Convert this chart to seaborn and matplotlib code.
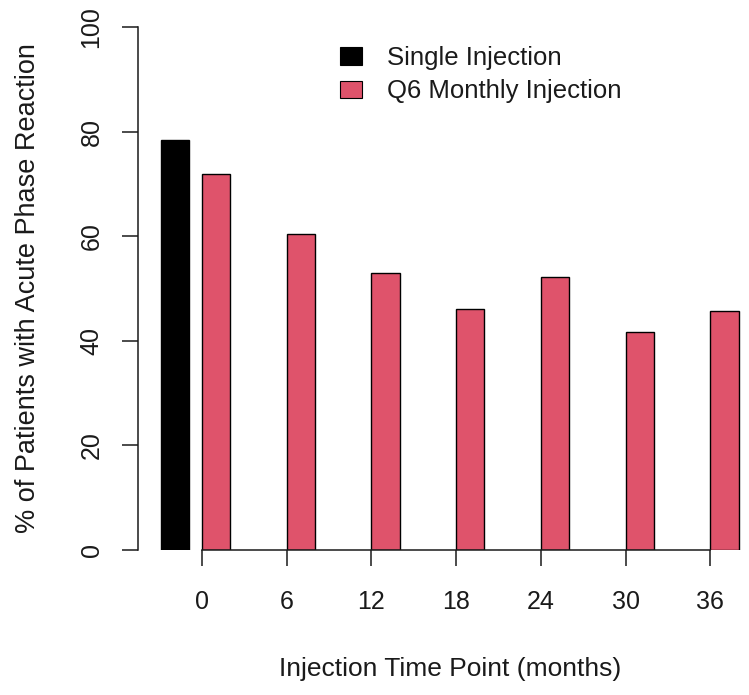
import numpy as np
import pandas as pd
import seaborn as sns
from matplotlib import pyplot as plt
from matplotlib.patches import Patch

# values
months = [0, 6, 12, 18, 24, 30, 36]
tick_labels = ["0", "6", "12", "18", "24", "30", "36"]
q6_pct = [71.8, 60.5, 52.9, 46.0, 52.2, 41.6, 45.7]
single_pct = [78.4]
y_ticks = [0, 20, 40, 60, 80, 100]

RED = "#DF536B"

sns.set_style("ticks")
plt.rcParams["font.family"] = ["Liberation Sans", "DejaVu Sans"]
plt.rcParams["text.color"] = "#1a1a1a"
plt.rcParams["axes.labelcolor"] = "#1a1a1a"
plt.rcParams["xtick.color"] = "#1a1a1a"
plt.rcParams["ytick.color"] = "#1a1a1a"

# bar centres: each Q6 bar sits just right of its tick, the single bar left of 0
q6 = pd.DataFrame({"pos": np.array(months, dtype=float) + 1.0, "pct": q6_pct})
single = pd.DataFrame({"pos": [months[0] - 1.9], "pct": single_pct})

fig = plt.figure(figsize=(7.49, 6.95), dpi=100)
ax = fig.add_axes([137.6 / 749, 145 / 695, 624.1 / 749, 523 / 695])

sns.barplot(data=single, x="pos", y="pct", native_scale=True, width=2.0,
            color="black", saturation=1, edgecolor="black", linewidth=1.0,
            errorbar=None, ax=ax)
sns.barplot(data=q6, x="pos", y="pct", native_scale=True, width=2.0 / 6,
            color=RED, saturation=1, edgecolor="black", linewidth=1.0,
            errorbar=None, ax=ax)

ax.set_xlim(-4.56, 39.64)
ax.set_ylim(0, 100)
ax.set_xticks(months, tick_labels)
ax.set_yticks(y_ticks, [str(v) for v in y_ticks])
for lab in ax.get_yticklabels():
    lab.set_rotation(90)
    lab.set_va("center")

sns.despine(ax=ax)
ax.spines["left"].set_bounds(0, 100)
ax.spines["bottom"].set_bounds(0, 36)
for s in ("left", "bottom"):
    ax.spines[s].set_linewidth(1.1)
    ax.spines[s].set_color("#1a1a1a")

ax.tick_params(axis="both", length=11.5, width=1.1, labelsize=18)
ax.tick_params(axis="y", pad=13)
ax.tick_params(axis="x", pad=17.5)

ax.set_xlabel("Injection Time Point (months)", fontsize=19, labelpad=30.5)
ax.set_ylabel("% of Patients with Acute Phase Reaction", fontsize=19.5, labelpad=28)

handles = [Patch(facecolor="black", edgecolor="black", linewidth=0.8),
           Patch(facecolor=RED, edgecolor="black", linewidth=0.8)]
ax.legend(handles, ["Single Injection", "Q6 Monthly Injection"],
          loc="upper left", bbox_to_anchor=(340 / 749, 1 - 46 / 695),
          bbox_transform=fig.transFigure, frameon=False, fontsize=18.5,
          borderpad=0, borderaxespad=0, handlelength=0.86, handleheight=0.66,
          handletextpad=0.98, labelspacing=0.36)

fig.savefig("out.png", dpi=100)
